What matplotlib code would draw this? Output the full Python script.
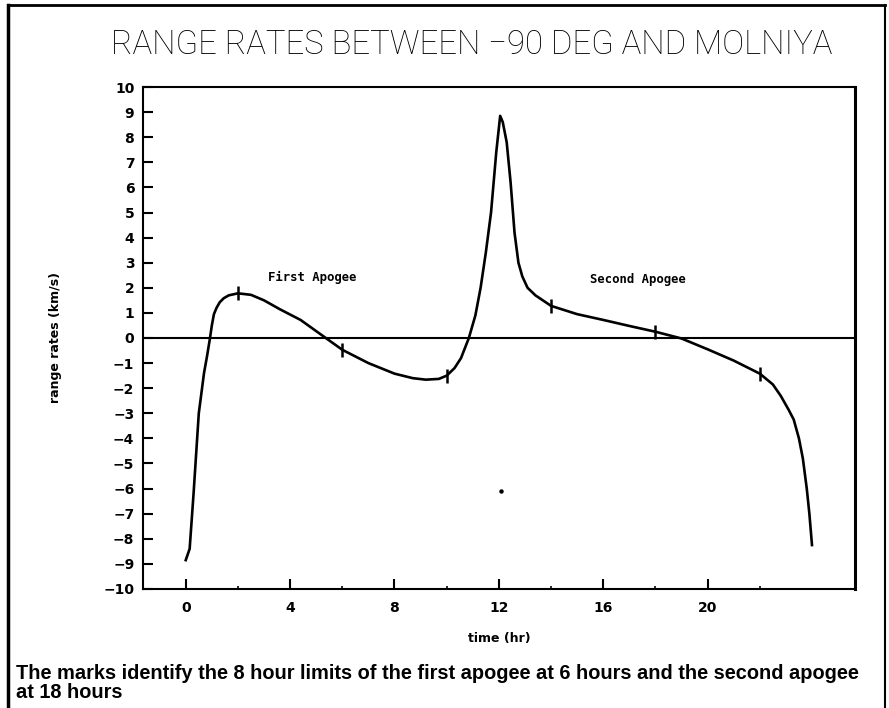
import matplotlib
matplotlib.use("Agg")
import matplotlib.pyplot as plt
from matplotlib.lines import Line2D
from matplotlib import font_manager

# Range-rate curve samples (time in hours, range rate in km/s)
time_hr = [0.0, 0.15, 0.3, 0.5, 0.7, 0.82, 0.93, 1.0, 1.08, 1.18, 1.3, 1.45,
           1.65, 2.0, 2.5, 3.0, 3.6, 4.4, 5.3, 6.0, 7.0, 8.0, 8.7, 9.2, 9.7,
           10.0, 10.3, 10.55, 10.85, 11.1, 11.3, 11.5, 11.7, 11.9, 12.05,
           12.15, 12.3, 12.45, 12.6, 12.75, 12.9, 13.1, 13.4, 14.0, 15.0,
           16.0, 17.0, 18.0, 19.0, 20.0, 21.0, 22.0, 22.5, 22.8, 23.1, 23.3,
           23.5, 23.65, 23.8, 23.9, 24.0]
range_rate = [-8.85, -8.4, -6.2, -3.0, -1.4, -0.7, 0.0, 0.5, 0.95, 1.2,
              1.42, 1.58, 1.7, 1.78, 1.72, 1.5, 1.15, 0.72, 0.05, -0.47,
              -1.0, -1.42, -1.6, -1.66, -1.63, -1.5, -1.2, -0.8, 0.0, 0.9,
              2.0, 3.4, 5.0, 7.4, 8.85, 8.6, 7.8, 6.2, 4.2, 3.0, 2.45, 2.0,
              1.7, 1.28, 0.95, 0.72, 0.48, 0.25, -0.02, -0.45, -0.9, -1.42,
              -1.85, -2.3, -2.85, -3.25, -4.0, -4.8, -6.0, -7.0, -8.25]

# Marks at the 8 hour limits around each apogee
mark_hr = [2, 6, 10, 14, 18, 22]
mark_rate = [1.78, -0.47, -1.5, 1.28, 0.25, -1.42]

# Stray plotted point
dot_hr = [12.1]
dot_rate = [-6.1]

x_major = [0, 4, 8, 12, 16, 20]
x_minor = [2, 6, 10, 14, 18, 22]
y_ticks = list(range(-10, 11))

title_text = "RANGE RATES BETWEEN \u221290 DEG AND MOLNIYA"
caption_text = ("The marks identify the 8 hour limits of the first apogee at 6 hours "
                "and the second apogee\nat 18 hours")

available = {f.name for f in font_manager.fontManager.ttflist}
title_family = ["Roboto", "DejaVu Sans"] if "Roboto" in available else ["DejaVu Sans"]

fig = plt.figure(figsize=(8.89, 7.08), dpi=100)
ax = fig.add_axes([0.1605, 0.1681, 0.8013, 0.709])

ax.axhline(0, color="black", lw=1.5, zorder=2)
ax.plot(time_hr, range_rate, color="black", lw=1.9, zorder=3,
        solid_joinstyle="round")
ax.plot(mark_hr, mark_rate, linestyle="none", marker="|", markersize=10,
        markeredgewidth=1.8, color="black", zorder=4)
ax.plot(dot_hr, dot_rate, linestyle="none", marker="o", markersize=2.2,
        color="black", zorder=4)

ax.set_xlim(-1.65, 25.65)
ax.set_ylim(-10, 10)
ax.set_xticks(x_major)
ax.set_xticks(x_minor, minor=True)
ax.set_yticks(y_ticks)
ax.set_yticklabels([str(v).replace("-", "\u2212") for v in y_ticks])

ax.tick_params(axis="both", which="major", direction="in", length=7,
               width=1.5, labelsize=10)
ax.tick_params(axis="x", which="major", pad=9)
ax.tick_params(axis="y", which="major", pad=6)
ax.tick_params(axis="x", which="minor", direction="in", length=2, width=1.2)
ax.tick_params(top=False, right=False)
for lab in ax.get_xticklabels() + ax.get_yticklabels():
    lab.set_fontweight("bold")
    lab.set_family("DejaVu Sans")

for side in ["left", "bottom", "top"]:
    ax.spines[side].set_linewidth(1.5)
ax.spines["right"].set_linewidth(2.2)

ax.set_xlabel("time (hr)", fontsize=9, fontweight="bold", labelpad=12)
ax.set_ylabel("range rates (km/s)", fontsize=9, fontweight="bold", labelpad=30)

ax.text(3.15, 2.43, "First Apogee", family="DejaVu Sans Mono",
        fontweight="bold", fontsize=8.8, ha="left", va="center")
ax.text(15.5, 2.35, "Second Apogee", family="DejaVu Sans Mono",
        fontweight="bold", fontsize=8.8, ha="left", va="center")

fig.text(0.531, 1 - 45 / 708, title_text, family=title_family, fontsize=23.7,
         fontweight="light", ha="center", va="center")

fig.text(16 / 889, 1 - 683 / 708, caption_text, family="Liberation Sans",
         fontweight="bold", fontsize=14.4, ha="left", va="center",
         linespacing=1.0)

# Page frame
for xs, ys, w in [((8 / 889, 8 / 889), (0, 1 - 5 / 708), 2.5),
                  ((8 / 889, 885 / 889), (1 - 5 / 708, 1 - 5 / 708), 2.0),
                  ((885 / 889, 885 / 889), (0, 1 - 5 / 708), 1.5)]:
    fig.add_artist(Line2D(xs, ys, color="black", lw=w,
                          transform=fig.transFigure))

fig.savefig("out.png", dpi=100)
